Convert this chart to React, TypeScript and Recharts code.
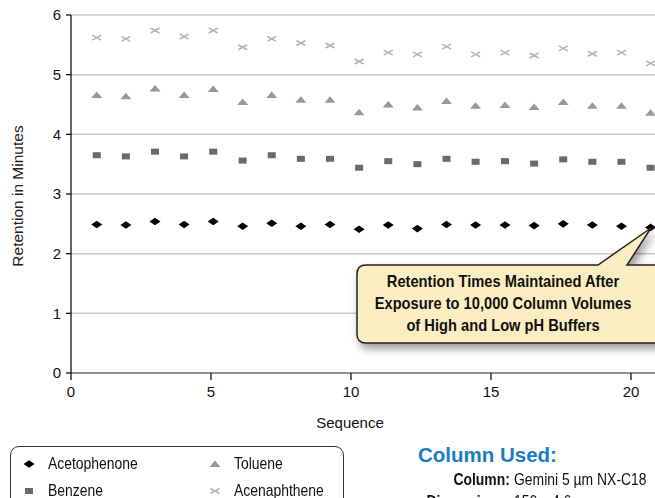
import React from "react";
import { ScatterChart, Scatter, XAxis, YAxis, CartesianGrid } from "recharts";

// Sequence positions
const sequence = [0.92, 1.96, 3.0, 4.04, 5.08, 6.13, 7.17, 8.21, 9.25, 10.29, 11.33, 12.37, 13.41, 14.45, 15.5, 16.54, 17.58, 18.62, 19.66, 20.7];

// Retention in minutes per compound
const acetophenone = [2.49, 2.48, 2.54, 2.49, 2.54, 2.46, 2.51, 2.46, 2.49, 2.41, 2.48, 2.42, 2.49, 2.48, 2.48, 2.47, 2.5, 2.48, 2.46, 2.44];
const benzene = [3.65, 3.63, 3.71, 3.63, 3.71, 3.56, 3.65, 3.59, 3.59, 3.44, 3.55, 3.5, 3.59, 3.54, 3.55, 3.51, 3.58, 3.54, 3.54, 3.44];
const toluene = [4.66, 4.64, 4.77, 4.66, 4.76, 4.54, 4.66, 4.58, 4.58, 4.37, 4.5, 4.45, 4.56, 4.48, 4.49, 4.46, 4.54, 4.48, 4.48, 4.36];
const acenaphthene = [5.62, 5.6, 5.74, 5.64, 5.74, 5.46, 5.6, 5.53, 5.49, 5.22, 5.37, 5.34, 5.47, 5.34, 5.37, 5.32, 5.44, 5.35, 5.37, 5.19];

const xTicks = [0, 5, 10, 15, 20];
const yTicks = [0, 1, 2, 3, 4, 5, 6];

const toPoints = (values: number[]) => sequence.map((x, i) => ({ x, y: values[i] }));

const SANS = '"Liberation Sans", Arial, sans-serif';

// marker shapes (slightly flattened like the original)
const Diamond = (p: any) => (
    <polygon points={`${p.cx - 5.5},${p.cy} ${p.cx},${p.cy - 3.8} ${p.cx + 5.5},${p.cy} ${p.cx},${p.cy + 3.8}`} fill="#000" />
);
const Square = (p: any) => <rect x={p.cx - 4} y={p.cy - 3} width={8} height={6} fill="#6a6a6a" />;
const Triangle = (p: any) => (
    <polygon points={`${p.cx - 5.5},${p.cy + 3} ${p.cx},${p.cy - 3.5} ${p.cx + 5.5},${p.cy + 3}`} fill="#999" />
);
const Cross = (p: any) => (
    <g stroke="#b5b5b5" strokeWidth={1.6}>
        <line x1={p.cx - 4.5} y1={p.cy - 2.5} x2={p.cx + 4.5} y2={p.cy + 2.5} />
        <line x1={p.cx - 4.5} y1={p.cy + 2.5} x2={p.cx + 4.5} y2={p.cy - 2.5} />
    </g>
);

const LegendIcon = ({ Shape }: { Shape: any }) => (
    <svg width={14} height={10} style={{ display: "block" }}>
        <Shape cx={7} cy={5} />
    </svg>
);

// no condensed font installed, so squeeze the regular one
const Narrow = ({ children, origin = "left", k = 0.87 }: any) => (
    <span style={{ display: "inline-block", transform: `scaleX(${k})`, transformOrigin: origin, whiteSpace: "nowrap" }}>
        {children}
    </span>
);

export default function App() {
    const legendRow = (Shape: any, label: string, left: number, top: number) => (
        <div style={{ position: "absolute", left, top, display: "flex", alignItems: "center" }}>
            <LegendIcon Shape={Shape} />
            <span style={{ marginLeft: 12, fontFamily: SANS, fontSize: 16, color: "#111" }}>
                <Narrow>{label}</Narrow>
            </span>
        </div>
    );

    return (
        <div style={{ position: "fixed", left: 0, top: 0, width: 655, height: 498, overflow: "hidden", background: "#fff" }}>
            <ScatterChart width={700} height={440} margin={{ top: 15, right: 13, bottom: 0, left: 0 }}>
                <CartesianGrid vertical={false} stroke="#c8c8c8" strokeWidth={1.5} />
                <XAxis
                    type="number"
                    dataKey="x"
                    domain={[0, 22]}
                    ticks={xTicks}
                    height={67}
                    tickSize={7}
                    tickMargin={6}
                    axisLine={{ stroke: "#777", strokeWidth: 1.5 }}
                    tickLine={{ stroke: "#000", strokeWidth: 1.2 }}
                    tick={{ fill: "#111", fontSize: 15, fontFamily: SANS }}
                    label={{
                        content: () => (
                            <text x={350} y={428} textAnchor="middle" fontSize={15} fontFamily={SANS} fill="#111">
                                Sequence
                            </text>
                        ),
                    }}
                />
                <YAxis
                    type="number"
                    dataKey="y"
                    domain={[0, 6]}
                    ticks={yTicks}
                    width={71}
                    tickSize={5}
                    tickMargin={5}
                    axisLine={{ stroke: "#000", strokeWidth: 1.2 }}
                    tickLine={{ stroke: "#000", strokeWidth: 1.2 }}
                    tick={{ fill: "#111", fontSize: 15, fontFamily: SANS }}
                    label={{
                        content: () => (
                            <text
                                x={17}
                                y={196}
                                transform="rotate(-90, 17, 196)"
                                textAnchor="middle"
                                dominantBaseline="central"
                                fontSize={15.5}
                                fontFamily={SANS}
                                fill="#222"
                            >
                                Retention in Minutes
                            </text>
                        ),
                    }}
                />
                <Scatter name="Acenaphthene" data={toPoints(acenaphthene)} shape={Cross} isAnimationActive={false} />
                <Scatter name="Toluene" data={toPoints(toluene)} shape={Triangle} isAnimationActive={false} />
                <Scatter name="Benzene" data={toPoints(benzene)} shape={Square} isAnimationActive={false} />
                <Scatter name="Acetophenone" data={toPoints(acetophenone)} shape={Diamond} isAnimationActive={false} />
            </ScatterChart>

            {/* callout */}
            <svg width={655} height={498} style={{ position: "absolute", left: 0, top: 0, pointerEvents: "none" }}>
                <defs>
                    <filter id="shadow" x="-20%" y="-30%" width="140%" height="180%">
                        <feDropShadow dx={3} dy={5} stdDeviation={4} floodColor="#000" floodOpacity={0.4} />
                    </filter>
                </defs>
                <path
                    d="M366,265 H598 L651,228 L627,265 H661 Q670,265 670,274 V334 Q670,343 661,343 H366 Q357,343 357,334 V274 Q357,265 366,265 Z"
                    fill="#fbedc2"
                    stroke="#222"
                    strokeWidth={1.5}
                    filter="url(#shadow)"
                />
                <g transform="translate(503,0) scale(0.89,1)" fontFamily={SANS} fontWeight="bold" fontSize={16.5} fill="#111" textAnchor="middle">
                    <text x={0} y={287.5}>Retention Times Maintained After</text>
                    <text x={0} y={309}>Exposure to 10,000 Column Volumes</text>
                    <text x={0} y={331}>of High and Low pH Buffers</text>
                </g>
            </svg>

            {/* legend box */}
            <div
                style={{
                    position: "absolute",
                    left: 10,
                    top: 446,
                    width: 334,
                    height: 80,
                    border: "1.3px solid #333",
                    borderRadius: 9,
                    boxSizing: "border-box",
                }}
            />
            {legendRow(Diamond, "Acetophenone", 22, 455)}
            {legendRow(Square, "Benzene", 22, 482)}
            {legendRow(Triangle, "Toluene", 208, 455)}
            {legendRow(Cross, "Acenaphthene", 208, 482)}

            {/* column info */}
            <div style={{ position: "absolute", left: 418, top: 443, fontFamily: SANS, fontWeight: "bold", fontSize: 20.5, color: "#1a7dc2", whiteSpace: "nowrap" }}>
                Column Used:
            </div>
            <div style={{ position: "absolute", left: 0, top: 471, width: 510, textAlign: "right", fontFamily: SANS, fontWeight: "bold", fontSize: 16, color: "#111" }}>
                <Narrow origin="right">Column:</Narrow>
            </div>
            <div style={{ position: "absolute", left: 514, top: 471, fontFamily: SANS, fontSize: 16, color: "#111" }}>
                <Narrow>Gemini 5 µm NX-C18</Narrow>
            </div>
            <div style={{ position: "absolute", left: 0, top: 493, width: 510, textAlign: "right", fontFamily: SANS, fontWeight: "bold", fontSize: 16, color: "#111" }}>
                <Narrow origin="right">Dimensions:</Narrow>
            </div>
            <div style={{ position: "absolute", left: 514, top: 493, fontFamily: SANS, fontSize: 16, color: "#111" }}>
                <Narrow>150 x 4.6 mm</Narrow>
            </div>
        </div>
    );
}
